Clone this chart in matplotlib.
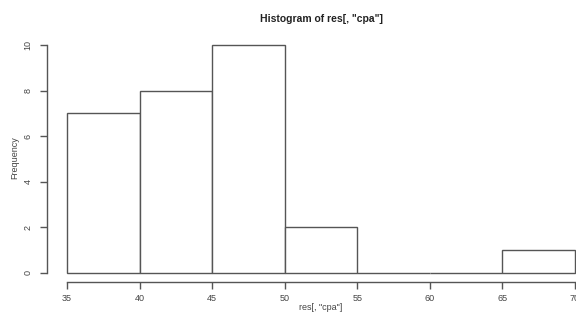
import matplotlib
matplotlib.use("Agg")
import matplotlib.pyplot as plt

# ── Data ──────────────────────────────────────────────────────────────────────
bin_edges = [35, 40, 45, 50, 55, 60, 65, 70]
counts    = [7, 8, 10, 2, 0, 0, 1]
x_ticks   = [35, 40, 45, 50, 55, 60, 65, 70]
y_ticks   = [0, 2, 4, 6, 8, 10]

title  = 'Histogram of res[, "cpa"]'
xlabel = 'res[, "cpa"]'
ylabel = "Frequency"

# ── Style ─────────────────────────────────────────────────────────────────────
plt.rcParams["font.family"] = ["Liberation Sans", "DejaVu Sans"]
LINE = "#555555"
TEXT = "#444444"

fig = plt.figure(figsize=(5.76, 3.2), dpi=100)
# R-style plot region (extends past right edge like the source)
ax = fig.add_axes([46.7 / 576, 1 - 281.6 / 320, (595.3 - 46.7) / 576, (281.6 - 35.9) / 320])

widths = [b - a for a, b in zip(bin_edges[:-1], bin_edges[1:])]
ax.bar(bin_edges[:-1], counts, width=widths, align="edge",
       facecolor="white", edgecolor=LINE, linewidth=1.0)

ax.set_xlim(33.6, 71.4)
ax.set_ylim(-0.4, 10.4)

for side in ("top", "right"):
    ax.spines[side].set_visible(False)
for side in ("left", "bottom"):
    ax.spines[side].set_color(LINE)
    ax.spines[side].set_linewidth(1.0)
ax.spines["left"].set_bounds(0, 10)
ax.spines["bottom"].set_bounds(35, 70)

ax.set_xticks(x_ticks)
ax.set_yticks(y_ticks)
ax.tick_params(axis="both", direction="out", length=5, width=1.0,
               color=LINE, labelcolor=TEXT, labelsize=6.5)
ax.tick_params(axis="x", pad=4)
ax.tick_params(axis="y", pad=5)
for lbl in ax.get_yticklabels():
    lbl.set_rotation(90)
    lbl.set_va("center")

fig.text(321 / 576, 1 - 307 / 320, xlabel, ha="center", va="center",
         fontsize=6.5, color=TEXT)
fig.text(15 / 576, 1 - 158 / 320, ylabel, ha="center", va="center",
         rotation=90, fontsize=6.5, color=TEXT)
fig.text(321 / 576, 1 - 19 / 320, title, ha="center", va="center",
         fontsize=7.5, fontweight="bold", color="#222222")

fig.savefig("out.png", dpi=100)
